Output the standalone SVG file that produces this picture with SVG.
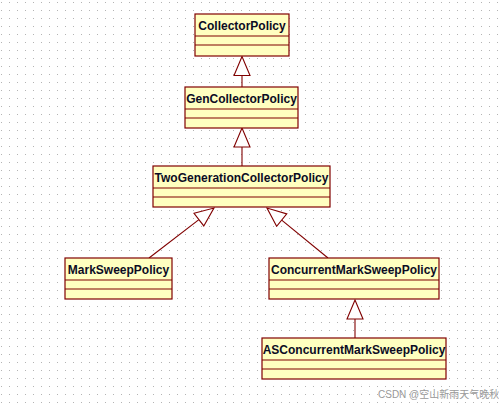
<svg xmlns="http://www.w3.org/2000/svg" width="499" height="410" viewBox="0 0 499 410">
<style>
.box{fill:#ffffc0;stroke:#800000;stroke-width:1.2}
.div{stroke:#800000;stroke-width:1.2}
.t{font-family:"Liberation Sans",Arial,sans-serif;font-weight:bold;font-size:12px;fill:#0c0c24;text-anchor:middle}
.c{fill:none;stroke:#800000;stroke-width:1.1}
.wm{font-family:"Liberation Sans","Noto Sans CJK SC",sans-serif;font-size:10px;fill:#999999}
</style>
<defs>
<pattern id="grid" patternUnits="userSpaceOnUse" width="8" height="8">
<rect x="1" y="2" width="1" height="1" fill="#b4b4b4"/>
</pattern>
<marker id="tri" markerUnits="userSpaceOnUse" viewBox="-1 -9 21 18" markerWidth="21" markerHeight="18" refX="0" refY="0" orient="auto">
<path d="M0,-8 L19,0 L0,8 Z" fill="#ffffff" stroke="#800000" stroke-width="1.1"/>
</marker>
</defs>
<rect width="499" height="410" fill="#ffffff"/>
<rect width="499" height="410" fill="url(#grid)"/>

<g id="connectors">
<line class="c" x1="242" y1="87" x2="242" y2="75.5" marker-end="url(#tri)"/>
<line class="c" x1="242" y1="166" x2="242" y2="147" marker-end="url(#tri)"/>
<line class="c" x1="149" y1="258" x2="198.9" y2="219.6" marker-end="url(#tri)"/>
<line class="c" x1="328" y1="258" x2="281.7" y2="220.1" marker-end="url(#tri)"/>
<line class="c" x1="355" y1="338" x2="355" y2="319" marker-end="url(#tri)"/>
</g>

<g id="CollectorPolicy">
<rect class="box" x="195" y="14" width="94" height="42"/>
<line class="div" x1="195" y1="36" x2="289" y2="36"/>
<line class="div" x1="195" y1="45" x2="289" y2="45"/>
<text class="t" x="242" y="29.5">CollectorPolicy</text>
</g>

<g id="GenCollectorPolicy">
<rect class="box" x="185" y="87" width="113" height="41"/>
<line class="div" x1="185" y1="109" x2="298" y2="109"/>
<line class="div" x1="185" y1="118" x2="298" y2="118"/>
<text class="t" x="241.5" y="102.5">GenCollectorPolicy</text>
</g>

<g id="TwoGenerationCollectorPolicy">
<rect class="box" x="153" y="166" width="177" height="41"/>
<line class="div" x1="153" y1="188" x2="330" y2="188"/>
<line class="div" x1="153" y1="197" x2="330" y2="197"/>
<text class="t" x="241.5" y="181.5">TwoGenerationCollectorPolicy</text>
</g>

<g id="MarkSweepPolicy">
<rect class="box" x="65" y="258" width="107" height="41"/>
<line class="div" x1="65" y1="280" x2="172" y2="280"/>
<line class="div" x1="65" y1="289" x2="172" y2="289"/>
<text class="t" x="118.5" y="273.5">MarkSweepPolicy</text>
</g>

<g id="ConcurrentMarkSweepPolicy">
<rect class="box" x="269" y="258" width="170" height="41"/>
<line class="div" x1="269" y1="280" x2="439" y2="280"/>
<line class="div" x1="269" y1="289" x2="439" y2="289"/>
<text class="t" x="354" y="273.5">ConcurrentMarkSweepPolicy</text>
</g>

<g id="ASConcurrentMarkSweepPolicy">
<rect class="box" x="262" y="338" width="184" height="41"/>
<line class="div" x1="262" y1="360" x2="446" y2="360"/>
<line class="div" x1="262" y1="369" x2="446" y2="369"/>
<text class="t" x="354" y="353.5">ASConcurrentMarkSweepPolicy</text>
</g>

<text class="wm" x="378" y="398">CSDN @空山新雨天气晚秋</text>
</svg>
